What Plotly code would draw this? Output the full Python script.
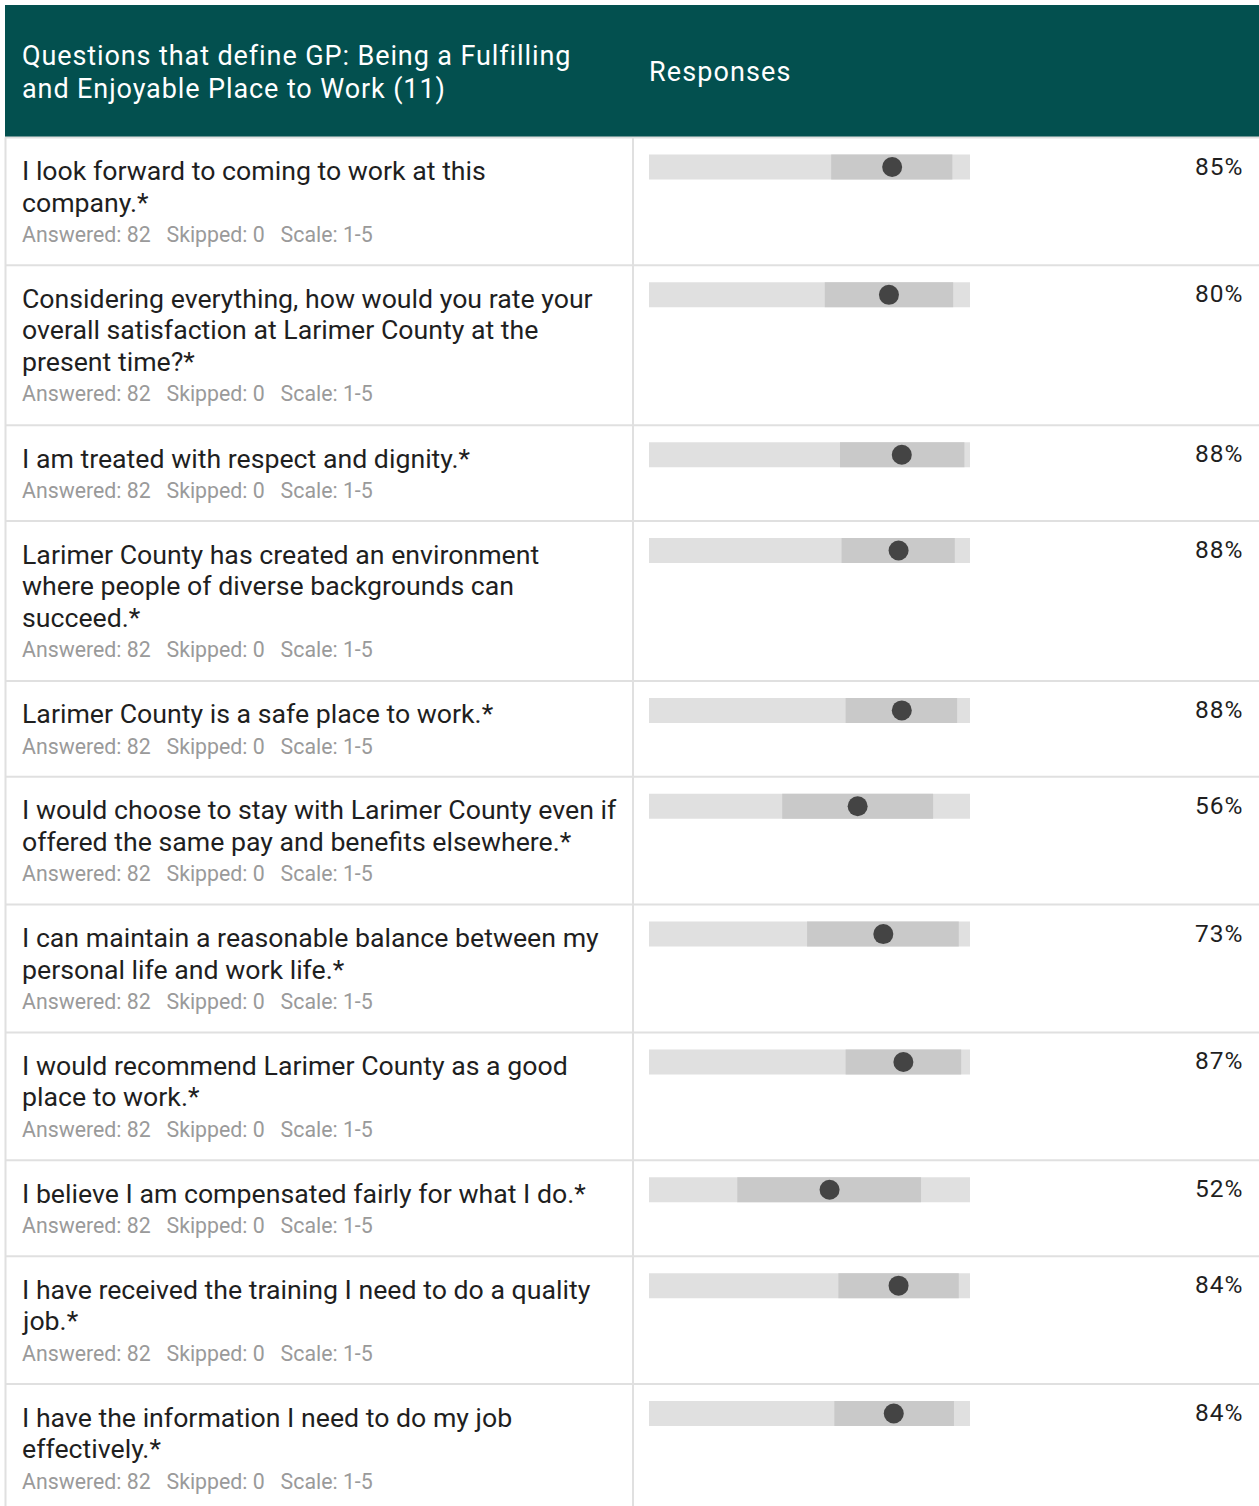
import plotly.graph_objects as go

# ---------------- data ----------------
header_question = "Questions that define GP: Being a Fulfilling\nand Enjoyable Place to Work (11)"
header_responses = "Responses"

questions = [
    "I look forward to coming to work at this\ncompany.*",
    "Considering everything, how would you rate your\noverall satisfaction at Larimer County at the\npresent time?*",
    "I am treated with respect and dignity.*",
    "Larimer County has created an environment\nwhere people of diverse backgrounds can\nsucceed.*",
    "Larimer County is a safe place to work.*",
    "I would choose to stay with Larimer County even if\noffered the same pay and benefits elsewhere.*",
    "I can maintain a reasonable balance between my\npersonal life and work life.*",
    "I would recommend Larimer County as a good\nplace to work.*",
    "I believe I am compensated fairly for what I do.*",
    "I have received the training I need to do a quality\njob.*",
    "I have the information I need to do my job\neffectively.*",
]
answered = [82] * 11
skipped = [0] * 11
scale_min, scale_max = 1, 5
means = [4.03, 3.99, 4.15, 4.11, 4.15, 3.60, 3.92, 4.17, 3.25, 4.11, 4.05]
low = [3.27, 3.19, 3.38, 3.40, 3.45, 2.66, 2.97, 3.45, 2.10, 3.36, 3.31]
high = [4.78, 4.79, 4.93, 4.81, 4.84, 4.54, 4.86, 4.89, 4.39, 4.86, 4.80]
percent_favorable = [85, 80, 88, 88, 88, 56, 73, 87, 52, 84, 84]

# ---------------- layout geometry (page pixels) ----------------
W, H = 1259, 1506
BAR_X0, BAR_X1 = 649, 970          # pixel extent of the 1-5 scale
PPU = (BAR_X1 - BAR_X0) / (scale_max - scale_min)
x_range = [scale_min - BAR_X0 / PPU, scale_min + (W - BAR_X0) / PPU]


def px(xpix):
    return xpix / W


TEAL = "#03504F"
GRID = "#e0e0e0"
FONT = "Roboto"

HEADER_TOP, HEADER_BOTTOM = 5, 137.5
ROW_BASE, LINE_H = 63.85, 32
TEXT_LH = 31.5

row_tops = []
centers = []
t = HEADER_BOTTOM
for q in questions:
    row_tops.append(t)
    centers.append(t + 29.5)
    t += ROW_BASE + LINE_H * len(q.split("\n"))

fig = go.Figure()

fig.add_trace(go.Bar(
    orientation="h", y=centers, x=[scale_max - scale_min] * len(centers),
    base=[scale_min] * len(centers), width=25,
    marker=dict(color="#e0e0e0", line=dict(width=0)), hoverinfo="skip",
))
fig.add_trace(go.Bar(
    orientation="h", y=centers, x=[h - l for h, l in zip(high, low)],
    base=low, width=25,
    marker=dict(color="#c9c9c9", line=dict(width=0)), hoverinfo="skip",
))
fig.add_trace(go.Scatter(
    x=means, y=centers, mode="markers",
    marker=dict(size=20, color="#444444", line=dict(width=0)), hoverinfo="skip",
))

shapes = []
annotations = []

# header
shapes.append(dict(type="rect", xref="paper", yref="y", x0=px(5), x1=1,
                   y0=HEADER_TOP, y1=HEADER_BOTTOM, fillcolor=TEAL, line=dict(width=0), layer="below"))
for i, line in enumerate(header_question.split("\n")):
    annotations.append(dict(
        xref="paper", yref="y", x=px(20), y=56 + i * 32.5, xanchor="left", yanchor="middle",
        text='<span style="letter-spacing:0.9px">' + line + '</span>', showarrow=False,
        font=dict(family=FONT, size=27, color="white")))
annotations.append(dict(
    xref="paper", yref="y", x=px(647), y=72, xanchor="left", yanchor="middle",
    text='<span style="letter-spacing:1.1px">' + header_responses + '</span>', showarrow=False,
    font=dict(family=FONT, size=27, color="white")))

# row borders
for top in row_tops:
    shapes.append(dict(type="line", xref="paper", yref="y", x0=px(5), x1=1,
                       y0=top, y1=top, line=dict(color=GRID, width=2), layer="below"))
shapes.append(dict(type="line", xref="paper", yref="y", x0=px(5.5), x1=px(5.5),
                   y0=HEADER_BOTTOM, y1=H, line=dict(color=GRID, width=2), layer="below"))
shapes.append(dict(type="line", xref="paper", yref="y", x0=px(633), x1=px(633),
                   y0=HEADER_BOTTOM, y1=H, line=dict(color=GRID, width=2), layer="below"))

NB = "\u00a0"
for q, top, c, a, s, p in zip(questions, row_tops, centers, answered, skipped, percent_favorable):
    lines = q.split("\n")
    for j, line in enumerate(lines):
        annotations.append(dict(
            xref="paper", yref="y", x=px(20), y=top + 33.5 + j * TEXT_LH,
            xanchor="left", yanchor="middle", text=line, showarrow=False,
            font=dict(family=FONT, size=26.7, color="#1f1f1f")))
    meta = f"Answered: {a}{NB*3}Skipped: {s}{NB*3}Scale: {scale_min}-{scale_max}"
    annotations.append(dict(
        xref="paper", yref="y", x=px(20), y=top + 33.5 + (len(lines) - 1) * TEXT_LH + 32,
        xanchor="left", yanchor="middle", text=meta, showarrow=False,
        font=dict(family=FONT, size=21.3, color="#9a9a9a")))
    annotations.append(dict(
        xref="paper", yref="y", x=px(1245), y=c - 1, xanchor="right", yanchor="middle",
        text=f'<span style="letter-spacing:1px">{p}%</span>', showarrow=False,
        font=dict(family=FONT, size=24.5, color="#1f1f1f")))

fig.update_layout(
    width=W, height=H, margin=dict(l=0, r=0, t=0, b=0, pad=0),
    paper_bgcolor="white", plot_bgcolor="rgba(0,0,0,0)",
    showlegend=False, barmode="overlay",
    xaxis=dict(range=x_range, visible=False, fixedrange=True),
    yaxis=dict(range=[H, 0], visible=False, fixedrange=True),
    shapes=shapes, annotations=annotations,
    hovermode=False,
)

fig.write_html("out.html", config={"displayModeBar": False, "staticPlot": True},
               post_script="document.body.style.margin='0';document.body.style.overflow='hidden';")
